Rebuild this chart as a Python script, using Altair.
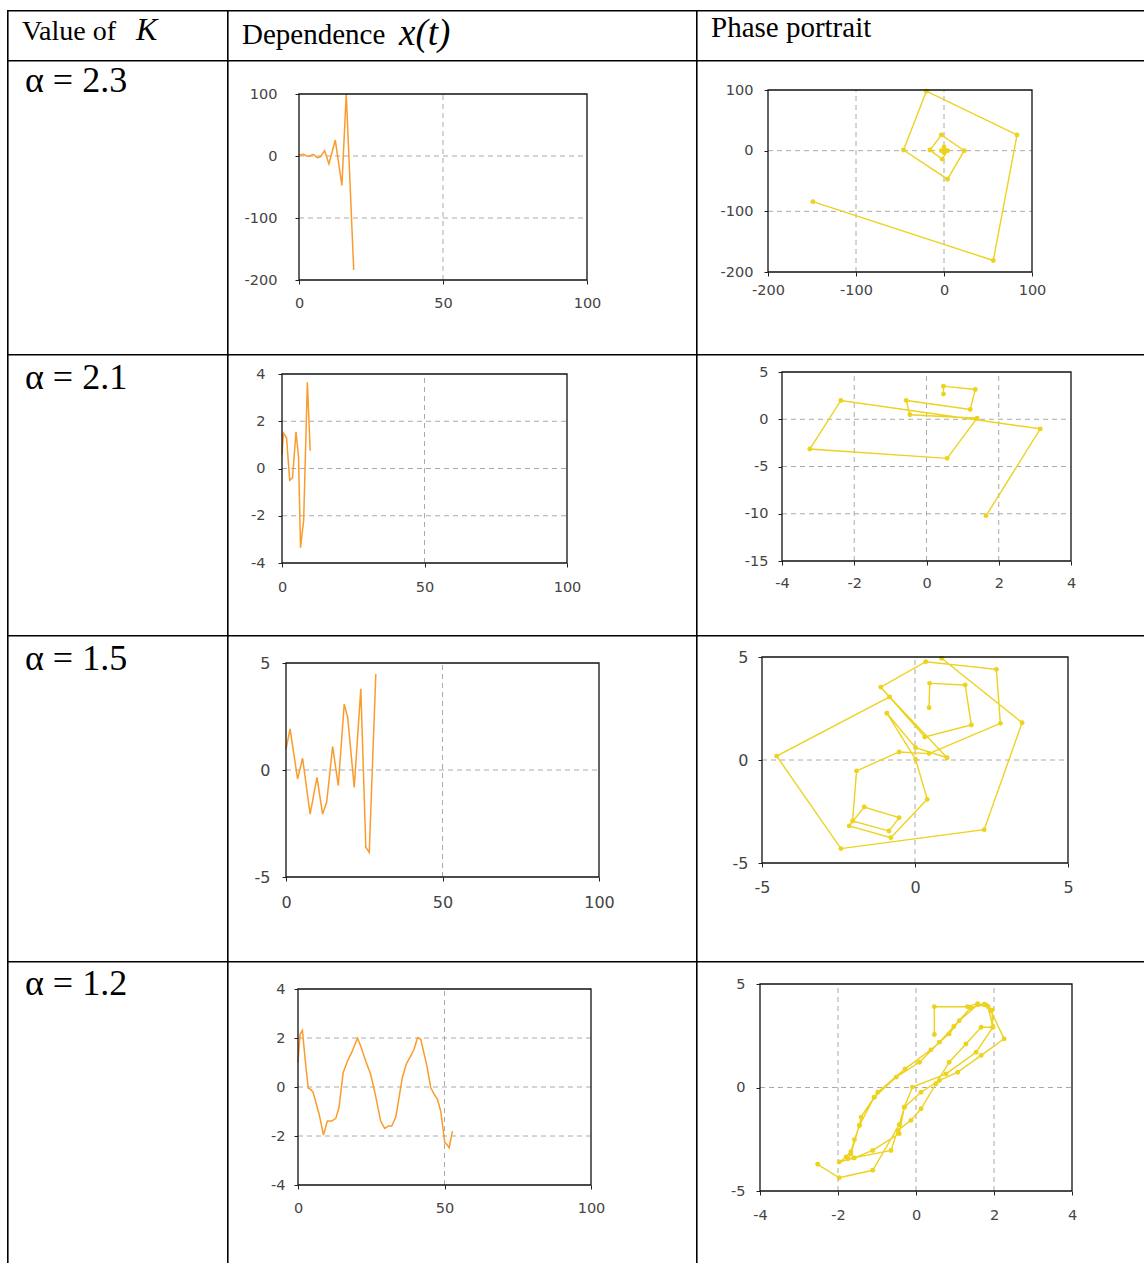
import altair as alt
import pandas as pd

# ---------------- data ----------------
row_labels = ["α = 2.3", "α = 2.1", "α = 1.5", "α = 1.2"]
header_texts = ["Value of", "K", "Dependence", "x(t)", "Phase portrait"]

# alpha = 2.3
ts1_t = [0, 1.6, 2.8, 3.8, 4.9, 6.4, 7.5, 8.9, 10.4, 12.6, 14.9, 16.4, 19.0]
ts1_x = [1.6, 2.7, -0.5, 0.0, 2.7, -2.7, -1.1, 8.6, -12.8, 25.7, -47.7, 100, -184]
ph1_x = [0, 1.5, 0, -3, 0, 4, -2, -16, -3, 23, 4, -46, -20, 83, 56, -149]
ph1_y = [1, 0, -3, 0, 6, 0, -14, 1, 26, 0, -47, 1, 98, 26, -181, -84]

# alpha = 2.1
ts2_t = [0, 0.5, 1.6, 2.7, 3.7, 4.9, 5.8, 6.5, 7.6, 8.9, 9.9]
ts2_x = [0.6, 1.5, 1.3, -0.5, -0.4, 1.55, 0.5, -3.35, -2.2, 3.65, 0.75]
ph2_x = [0.47, 0.47, 1.35, 1.21, -0.56, -0.46, 1.40, 0.57, -3.23, -2.37, 3.15, 1.65]
ph2_y = [2.66, 3.50, 3.15, 1.03, 1.99, 0.47, 0.11, -4.14, -3.15, 1.99, -1.02, -10.2]

# alpha = 1.5
ts3_t = [0, 1.3, 3.7, 5.3, 7.7, 9.9, 11.7, 13.0, 14.9, 16.7, 18.6, 19.7, 21.8, 23.9, 25.5, 26.6, 28.7]
ts3_x = [0.98, 1.92, -0.42, 0.55, -2.06, -0.34, -2.06, -1.5, 1.1, -0.73, 3.08, 2.46, -0.81, 3.79, -3.61, -3.85, 4.49]
ph3_x = [0.46, 0.48, 1.64, 1.84, 0.32, -1.12, 0.35, 2.66, 2.79, 0.46, -0.52, -1.91, -2.04, -0.85, -0.52,
         -1.66, -2.15, -0.79, 0.40, 0.02, -0.92, 0.02, 1.05, -0.83, -4.52, -2.42, 2.26, 3.50, 0.87]
ph3_y = [2.54, 3.72, 3.64, 1.70, 1.12, 3.54, 4.77, 4.40, 1.78, 0.31, 0.39, -0.53, -2.96, -3.45, -2.80,
         -2.28, -3.20, -3.77, -1.91, 0.03, 2.27, 0.60, 0.11, 3.06, 0.19, -4.30, -3.38, 1.81, 4.94]

# alpha = 1.2
ts4_t = [0, 0.7, 1.5, 2.5, 3.5, 4.3, 5.1, 7.2, 8.7, 10, 11.5, 12.9, 14, 15.4, 16.9, 18.3, 20.3, 21.4,
         23.1, 24.8, 26.5, 28.2, 29.6, 30.9, 32, 33.4, 34.3, 35.6, 37, 38.5, 39.6, 40.8, 41.9, 44,
         45.3, 46.5, 47.6, 48.7, 50.1, 50.8, 51.6, 52.7]
ts4_x = [1.0, 2.15, 2.31, 1.06, -0.05, -0.1, -0.2, -1.1, -1.96, -1.39, -1.39, -1.28, -0.84, 0.58, 1.06,
         1.40, 1.99, 1.67, 1.06, 0.52, -0.37, -1.39, -1.69, -1.59, -1.59, -1.22, -0.57, 0.38, 0.95,
         1.27, 1.54, 2.01, 1.95, 0.86, -0.03, -0.3, -0.5, -0.98, -2.27, -2.34, -2.48, -1.8]
ph4_x = [0.47, 0.47, 1.32, 1.58, 1.80, 1.92, 2.26, 1.67, 1.07, 0.60, 0.13, -0.30, -0.43, -1.11, -1.58,
         -1.97, -1.79, -1.67, -1.58, -1.45, -1.41, -1.07, -0.98, -0.28, 0.38, 0.85, 1.11, 1.58, 1.85,
         1.97, 1.67, 1.28, 0.85, 0.51, 0.13, -0.13, -0.47, -0.64, -1.60, -1.75, -1.67, -1.45, -1.07,
         -0.51, 0.09, 0.60, 0.97, 1.40, 1.75, 1.95, 1.97, 1.54, 0.77, -0.09, -0.30, -0.43, -1.11,
         -1.97, -2.52]
ph4_y = [2.56, 3.90, 3.90, 4.05, 3.98, 3.70, 2.35, 1.55, 0.74, 0.34, -0.23, -0.95, -2.23, -3.04, -3.40,
         -3.60, -3.36, -3.10, -2.52, -1.83, -1.43, -0.47, -0.23, 0.90, 1.82, 2.59, 3.23, 4.00, 3.90,
         2.91, 2.91, 2.10, 1.22, 0.18, -1.03, -1.59, -2.07, -3.04, -3.40, -3.45, -3.20, -1.83, -0.47,
         0.50, 1.22, 2.19, 2.95, 3.85, 4.02, 3.75, 2.91, 1.70, 0.66, 0.02, -0.95, -1.80, -4.00,
         -4.36, -3.71]

ORANGE = "#FB9B2C"
YELLOW = "#EDD21E"
SERIF = "Liberation Serif"
SANS = "DejaVu Sans"

# cell geometry
COLS = [220, 469, 448]
ROWS = [50, 294, 281, 326, 302]


def borders(W, H):
    one = pd.DataFrame({"k": [0]})
    top = alt.Chart(one).mark_rule(color="black", strokeWidth=1.6).encode(
        x=alt.value(0), x2=alt.value(W), y=alt.value(0.8))
    left = alt.Chart(one).mark_rule(color="black", strokeWidth=1.6).encode(
        x=alt.value(0.8), y=alt.value(0), y2=alt.value(H))
    return [top, left]


def text_cell(W, H, items):
    layers = borders(W, H)
    for txt, x, y, size, style in items:
        layers.append(
            alt.Chart(pd.DataFrame({"t": [txt]})).mark_text(
                align="left", baseline="alphabetic", font=SERIF, fontSize=size,
                fontStyle=style, color="black").encode(
                x=alt.value(x), y=alt.value(y), text="t:N"))
    return alt.layer(*layers).properties(width=W, height=H)


LABEL_EXPR = "datum.value < 0 ? '-' + abs(datum.value) : '' + datum.value"


def plot_cell(W, H, box, xdom, ydom, xticks, yticks, xgrid, ygrid, xs_, ys_, kind,
              fs, xpad, ypad):
    left, right, top, bottom = box
    xs = alt.Scale(domain=xdom, range=[left, right], nice=False, zero=False)
    ys = alt.Scale(domain=ydom, range=[bottom, top], nice=False, zero=False)
    layers = borders(W, H)

    axstyle = dict(domain=False, grid=False, tickSize=4, tickColor="#222",
                   labelFont=SANS, labelFontSize=fs, labelColor="#444", title=None,
                   labelExpr=LABEL_EXPR, labelFlush=False, labelOverlap=False)
    ax_x = alt.Axis(values=xticks, orient="bottom", offset=-(H - bottom), labelPadding=xpad,
                    **axstyle)
    ax_y = alt.Axis(values=yticks, orient="left", offset=-left, labelPadding=ypad, **axstyle)

    def X(f):
        return alt.X(f, scale=xs, axis=ax_x)

    def Y(f):
        return alt.Y(f, scale=ys, axis=ax_y)

    fr = pd.DataFrame({"x0": [xdom[0]], "x1": [xdom[1]], "y0": [ydom[0]], "y1": [ydom[1]]})
    layers.append(alt.Chart(fr).mark_rect(fill="white", strokeWidth=0).encode(
        x=X("x0:Q"), x2="x1:Q", y=Y("y0:Q"), y2="y1:Q"))

    vg = pd.DataFrame({"v": xgrid, "lo": [ydom[0]] * len(xgrid), "hi": [ydom[1]] * len(xgrid)})
    hg = pd.DataFrame({"v": ygrid, "lo": [xdom[0]] * len(ygrid), "hi": [xdom[1]] * len(ygrid)})
    gstyle = dict(color="#aaaaaa", strokeWidth=1, strokeDash=[5, 4])
    layers.append(alt.Chart(vg).mark_rule(**gstyle).encode(
        x=X("v:Q"), y=Y("lo:Q"), y2="hi:Q"))
    layers.append(alt.Chart(hg).mark_rule(**gstyle).encode(
        y=Y("v:Q"), x=X("lo:Q"), x2="hi:Q"))

    df = pd.DataFrame({"i": list(range(len(xs_))), "a": xs_, "b": ys_})
    if kind == "ts":
        layers.append(alt.Chart(df).mark_line(color=ORANGE, strokeWidth=1.5).encode(
            x=X("a:Q"), y=Y("b:Q"), order="i:Q"))
    else:
        layers.append(alt.Chart(df).mark_line(color=YELLOW, strokeWidth=1.4).encode(
            x=X("a:Q"), y=Y("b:Q"), order="i:Q"))
        layers.append(alt.Chart(df).mark_circle(color=YELLOW, size=24, opacity=1).encode(
            x=X("a:Q"), y=Y("b:Q")))

    layers.append(alt.Chart(fr).mark_rect(fillOpacity=0, stroke="#111", strokeWidth=1.3).encode(
        x=X("x0:Q"), x2="x1:Q", y=Y("y0:Q"), y2="y1:Q"))
    return alt.layer(*layers).properties(width=W, height=H)


cells = [
    text_cell(COLS[0], ROWS[0], [(header_texts[0], 15, 30, 28, "normal"),
                                 (header_texts[1], 129, 30, 32, "italic")]),
    text_cell(COLS[1], ROWS[0], [(header_texts[2], 15, 34, 29, "normal"),
                                 (header_texts[3], 172, 35, 37, "italic")]),
    text_cell(COLS[2], ROWS[0], [(header_texts[4], 15, 27, 29, "normal")]),
]

label_base = [32, 35, 35, 34]
row_specs = [
    dict(ts=((72, 360, 34, 220), [0, 100], [-200, 100], [0, 50, 100], [-200, -100, 0, 100],
             [50], [-100, 0], ts1_t, ts1_x, 14.5, 12, 18),
         ph=((72, 336, 30, 212), [-200, 100], [-200, 100], [-200, -100, 0, 100],
             [-200, -100, 0, 100], [-100, 0], [-100, 0], ph1_x, ph1_y, 14.5, 7, 11)),
    dict(ts=((55, 340, 20, 209), [0, 100], [-4, 4], [0, 50, 100], [-4, -2, 0, 2, 4],
             [50], [-2, 0, 2], ts2_t, ts2_x, 14.5, 13, 13),
         ph=((86, 375, 18, 207), [-4, 4], [-15, 5], [-4, -2, 0, 2, 4], [-15, -10, -5, 0, 5],
             [-2, 0, 2], [-10, -5, 0], ph2_x, ph2_y, 14.5, 11, 10)),
    dict(ts=((59, 372, 28, 242), [0, 100], [-5, 5], [0, 50, 100], [-5, 0, 5],
             [50], [0], ts3_t, ts3_x, 16, 13, 12),
         ph=((66, 372, 22, 228), [-5, 5], [-5, 5], [-5, 0, 5], [-5, 0, 5],
             [0], [0], ph3_x, ph3_y, 16, 12, 10)),
    dict(ts=((71, 364, 28, 224), [0, 100], [-4, 4], [0, 50, 100], [-4, -2, 0, 2, 4],
             [50], [-2, 0, 2], ts4_t, ts4_x, 14.5, 12, 9),
         ph=((64, 376, 23, 230), [-4, 4], [-5, 5], [-4, -2, 0, 2, 4], [-5, 0, 5],
             [-2, 0, 2], [0], ph4_x, ph4_y, 14.5, 13, 11)),
]

for r, spec in enumerate(row_specs):
    H = ROWS[r + 1]
    cells.append(text_cell(COLS[0], H, [(row_labels[r], 18, label_base[r], 36, "normal")]))
    b, xd, yd, xt, yt, xg, yg, dx, dy, fs, xp, yp = spec["ts"]
    cells.append(plot_cell(COLS[1], H, b, xd, yd, xt, yt, xg, yg, dx, dy, "ts", fs, xp, yp))
    b, xd, yd, xt, yt, xg, yg, dx, dy, fs, xp, yp = spec["ph"]
    cells.append(plot_cell(COLS[2], H, b, xd, yd, xt, yt, xg, yg, dx, dy, "ph", fs, xp, yp))

chart = alt.concat(*cells, columns=3, spacing=0, bounds="flush", align="each").properties(
    padding={"left": 6, "top": 9, "right": 0, "bottom": 0},
    background="white",
).configure_view(strokeWidth=0)

chart.save("out.html", embed_options={"renderer": "svg", "actions": False})
